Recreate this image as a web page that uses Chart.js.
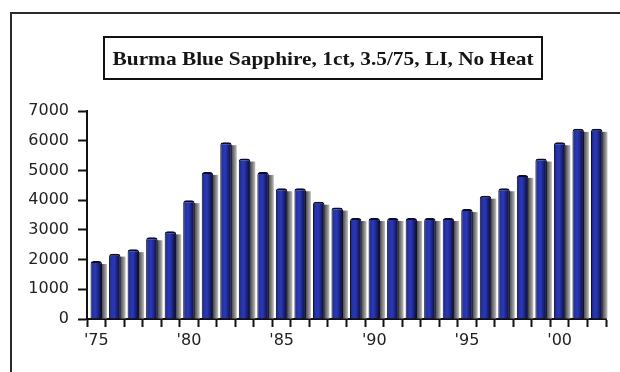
<!DOCTYPE html>
<html>
<head>
<meta charset="utf-8">
<script src="https://cdn.jsdelivr.net/npm/chart.js@4/dist/chart.umd.min.js"></script>
<style>
  html, body { margin: 0; padding: 0; background: #ffffff; }
  #wrap { width: 620px; height: 372px; position: relative; }
</style>
</head>
<body>
<div id="wrap"><canvas id="c" width="620" height="372"></canvas></div>
<script>
// Price per carat of a 1 ct Burma blue sapphire, 1975–2002
const chartTitle = "Burma Blue Sapphire, 1ct, 3.5/75, LI, No Heat";
const years = [1975, 1976, 1977, 1978, 1979, 1980, 1981, 1982, 1983, 1984,
               1985, 1986, 1987, 1988, 1989, 1990, 1991, 1992, 1993, 1994,
               1995, 1996, 1997, 1998, 1999, 2000, 2001, 2002];
const prices = [1950, 2200, 2350, 2750, 2950, 4000, 4950, 5950, 5400, 4950,
                4400, 4400, 3950, 3750, 3400, 3400, 3400, 3400, 3400, 3400,
                3700, 4150, 4400, 4850, 5400, 5950, 6400, 6400];
const yTicks = [0, 1000, 2000, 3000, 4000, 5000, 6000, 7000];
const labelEvery = 5;

const categories = years.map(y => "'" + String(y).slice(2));

// Frame, boxed title and the soft drop shadow behind each bar
const decor = {
  id: 'decor',
  beforeDraw(chart) {
    const ctx = chart.ctx;
    ctx.save();
    ctx.fillStyle = '#ffffff';
    ctx.fillRect(0, 0, chart.width, chart.height);
    ctx.strokeStyle = '#2a2a2a';
    ctx.lineWidth = 2;
    ctx.beginPath();
    ctx.moveTo(11, chart.height);
    ctx.lineTo(11, 13);
    ctx.lineTo(chart.width, 13);
    ctx.stroke();

    // title box
    ctx.lineWidth = 2;
    ctx.strokeStyle = '#111111';
    ctx.strokeRect(104, 37, 438, 42);
    ctx.font = '600 19px "Liberation Serif", "DejaVu Serif", serif';
    ctx.fillStyle = '#151515';
    ctx.textBaseline = 'alphabetic';
    const w = ctx.measureText(chartTitle).width;
    const target = 421;
    ctx.translate(323, 65);
    ctx.scale(target / w, 1);
    ctx.textAlign = 'center';
    ctx.fillText(chartTitle, 0, 0);
    ctx.restore();
  },
  beforeDatasetsDraw(chart) {
    const ctx = chart.ctx;
    const meta = chart.getDatasetMeta(0);
    ctx.save();
    meta.data.forEach(bar => {
      const right = bar.x + bar.width / 2;
      const g = ctx.createLinearGradient(right - 1, 0, right + 5, 0);
      g.addColorStop(0, '#3a3a3a');
      g.addColorStop(0.5, '#777777');
      g.addColorStop(1, '#c0c0c0');
      ctx.fillStyle = g;
      ctx.fillRect(right - 1, bar.y + 3, 6, bar.base - bar.y - 3);
    });
    ctx.restore();
  }
};

const BAR_PCT = 0.62;

function barFill(c) {
  const chart = c.chart;
  const xs = chart.scales.x;
  if (!xs || !chart.chartArea) return '#2a35b0';
  const cx = xs.getPixelForValue(c.dataIndex);
  const bw = (xs.width / categories.length) * BAR_PCT;
  const g = chart.ctx.createLinearGradient(cx - bw / 2, 0, cx + bw / 2, 0);
  g.addColorStop(0, '#121245');
  g.addColorStop(0.18, '#2333a5');
  g.addColorStop(0.45, '#2a38b8');
  g.addColorStop(0.72, '#1a2178');
  g.addColorStop(1, '#06061c');
  return g;
}

new Chart(document.getElementById('c'), {
  type: 'bar',
  data: {
    labels: categories,
    datasets: [{
      data: prices,
      backgroundColor: barFill,
      borderColor: '#0b0b2a',
      borderWidth: { top: 2, left: 1, right: 1, bottom: 0 },
      borderRadius: { topLeft: 3, topRight: 3, bottomLeft: 0, bottomRight: 0 },
      borderSkipped: 'bottom',
      barPercentage: BAR_PCT,
      categoryPercentage: 1
    }]
  },
  options: {
    responsive: false,
    animation: false,
    devicePixelRatio: 1,
    layout: { padding: { top: 111, right: 14, left: 0, bottom: 0 } },
    plugins: {
      legend: { display: false },
      title: { display: false },
      tooltip: { enabled: false }
    },
    scales: {
      x: {
        offset: true,
        grid: {
          offset: true,
          drawOnChartArea: false,
          drawTicks: true,
          tickLength: 8,
          tickColor: '#111111',
          tickWidth: 2
        },
        border: { display: true, color: '#111111', width: 2 },
        ticks: {
          autoSkip: false,
          maxRotation: 0,
          padding: 4,
          color: '#222222',
          font: { family: '"DejaVu Sans", sans-serif', size: 16 },
          callback: (v, i) => (i % labelEvery === 0 ? categories[i] : '')
        },
        afterFit(scale) { scale.height = 53; }
      },
      y: {
        min: 0,
        max: 7000,
        afterBuildTicks(scale) { scale.ticks = yTicks.map(v => ({ value: v })); },
        grid: {
          drawOnChartArea: false,
          drawTicks: true,
          tickLength: 9,
          tickColor: '#111111',
          tickWidth: 2
        },
        border: { display: true, color: '#111111', width: 2 },
        ticks: {
          padding: 9,
          color: '#222222',
          font: { family: '"DejaVu Sans", sans-serif', size: 16 },
          callback: v => String(v)
        },
        afterFit(scale) { scale.width = 87; }
      }
    }
  },
  plugins: [decor]
});
</script>
</body>
</html>
